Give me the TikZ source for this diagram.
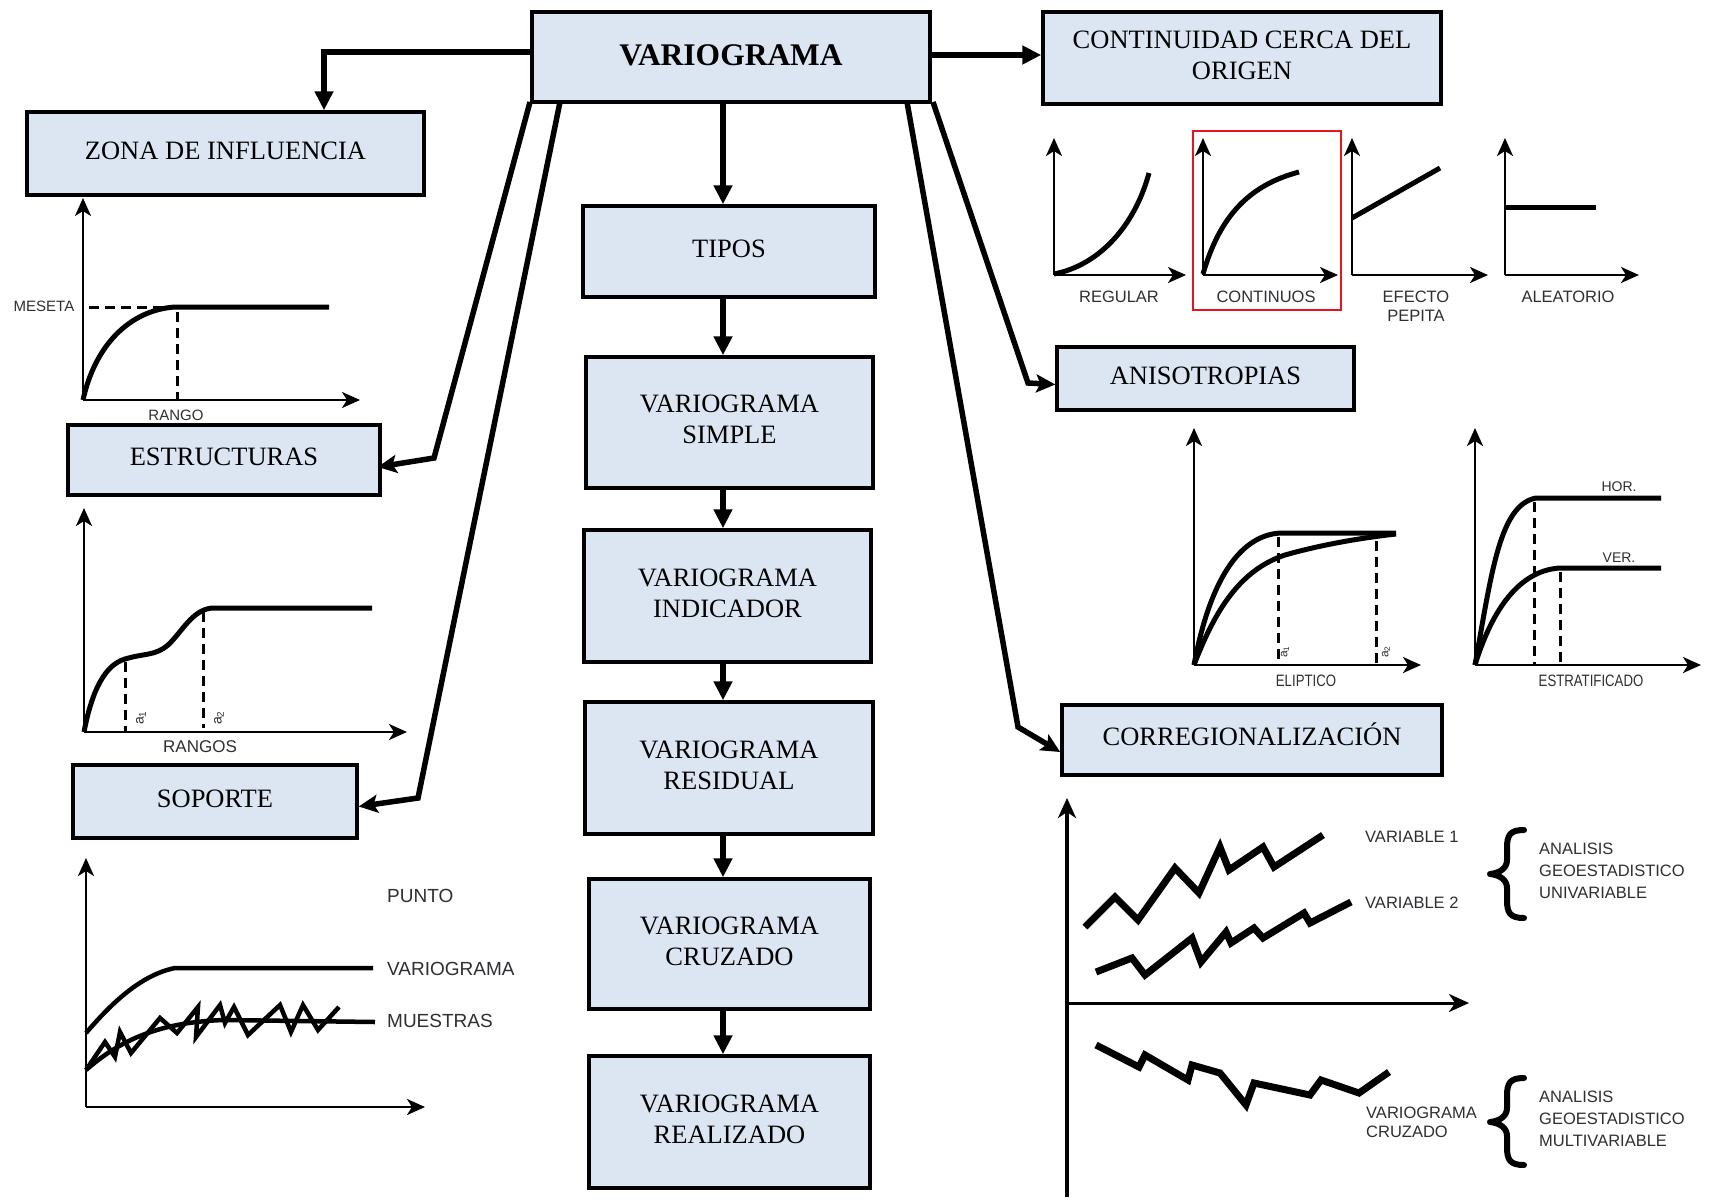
\documentclass[tikz,border=0pt]{standalone}
\usepackage{fontspec}
\setmainfont{Liberation Serif}
\newfontfamily\labfont{Liberation Sans}
\usepackage{graphicx}
\usetikzlibrary{arrows.meta,calc}
\definecolor{boxblue}{HTML}{DCE6F2}
\definecolor{labgray}{HTML}{2E2E33}
\definecolor{redbox}{HTML}{E8141B}
\begin{document}
\begin{tikzpicture}[x=1pt,y=-1pt,
  boxnode/.style={draw=black,line width=3.5pt,fill=boxblue,inner sep=0pt,align=center,text depth=6pt,font=\fontsize{26.5}{31}\selectfont},
  conn/.style={line width=5.5pt,line join=miter},
  ctip/.style={-{Triangle[length=19pt,width=18pt]}},
  stip/.style={-{Stealth[length=19pt,width=18pt,inset=4pt]}},
  axis/.style={line width=2.5pt,-{Stealth[length=18pt,width=16pt,inset=5pt]}},
  curve/.style={line width=5pt},
  dashln/.style={line width=3pt,dash pattern=on 10pt off 6pt},
  lab/.style={text=labgray,inner sep=0pt,font=\labfont\fontsize{16.5}{18}\selectfont},
  zig/.style={line width=4.5pt,line join=miter,miter limit=4},
  czig/.style={line width=7pt,line join=miter,miter limit=4},
  bracep/.style={line width=6pt,line join=round,line cap=round},
]
\useasboundingbox (0,0) rectangle (1709,1200);

% ---------- boxes ----------
\node[boxnode,minimum width=398pt,minimum height=90pt,text depth=3pt,font=\bfseries\fontsize{31.5}{36}\selectfont] (var) at (731,57) {VARIOGRAMA};
\node[boxnode,minimum width=398pt,minimum height=92pt] (cont) at (1242,58) {CONTINUIDAD CERCA DEL\\ORIGEN};
\node[boxnode,minimum width=397pt,minimum height=83pt] (zona) at (225.5,153.5) {ZONA DE INFLUENCIA};
\node[boxnode,minimum width=312pt,minimum height=70pt] (estr) at (224,460) {ESTRUCTURAS};
\node[boxnode,minimum width=284pt,minimum height=73pt] (sop) at (215,801.5) {SOPORTE};
\node[boxnode,minimum width=292pt,minimum height=91pt] (tipos) at (729,251.5) {TIPOS};
\node[boxnode,minimum width=287pt,minimum height=131pt] (simple) at (729.5,422.5) {VARIOGRAMA\\SIMPLE};
\node[boxnode,minimum width=287pt,minimum height=132pt] (indic) at (727.5,596) {VARIOGRAMA\\INDICADOR};
\node[boxnode,minimum width=288pt,minimum height=132pt] (resid) at (729,768) {VARIOGRAMA\\RESIDUAL};
\node[boxnode,minimum width=281pt,minimum height=130pt] (cruz) at (729.5,944) {VARIOGRAMA\\CRUZADO};
\node[boxnode,minimum width=281pt,minimum height=132pt] (realiz) at (729.5,1122) {VARIOGRAMA\\REALIZADO};
\node[boxnode,minimum width=297pt,minimum height=63pt] (aniso) at (1205.5,378.5) {ANISOTROPIAS};
\node[boxnode,minimum width=380pt,minimum height=70pt] (correg) at (1252,740) {CORREGIONALIZACI\smash{Ó}N};

% ---------- connectors ----------
\coordinate (ax) at (723,0);
\coordinate (zbend) at (324,52);
\draw[conn,ctip] ($(var.west)+(0,-5)$) -- (zbend) -- (zona.north -| zbend);
\draw[conn,ctip] ($(var.east)+(0,-2)$) -- ($(cont.west)+(0,-3)$);
\draw[conn,ctip] (var.south -| ax) -- (tipos.north -| ax);
\draw[conn,ctip] (tipos.south -| ax) -- (simple.north -| ax);
\draw[conn,ctip] (simple.south -| ax) -- (indic.north -| ax);
\draw[conn,ctip] (indic.south -| ax) -- (resid.north -| ax);
\draw[conn,ctip] (resid.south -| ax) -- (cruz.north -| ax);
\draw[conn,ctip] (cruz.south -| ax) -- (realiz.north -| ax);

\coordinate (s1) at (530,102); \coordinate (b1) at (434,458);
\coordinate (s2) at (560,102); \coordinate (b2) at (418,798);
\coordinate (s3) at (933,102); \coordinate (b3) at (1028,383);
\coordinate (s4) at (907,102); \coordinate (b4) at (1018,727);
\draw[conn,stip] (s1) -- (b1) -- ($(estr.east)+(-4,7)$);
\draw[conn,stip] (s2) -- (b2) -- ($(sop.east)+(0,5)$);
\draw[conn,stip] (s3) -- (b3) -- ($(aniso.west)+(0,6)$);
\draw[conn,stip] (s4) -- (b4) -- ($(correg.west)+(0,12)$);

% ---------- chart: zona de influencia ----------
\draw[axis] (83,400) -- (83,198);
\draw[axis] (83,400) -- (360,400);
\draw[curve] (83,400) .. controls (95,345) and (130,310) .. (175,307) -- (329,307);
\draw[dashln] (89,307) -- (170,307);
\draw[dashln] (177,312) -- (177,400);
\node[lab,font=\labfont\fontsize{15}{16}\selectfont] at (44,306) {MESETA};
\node[lab,font=\labfont\fontsize{15}{16}\selectfont] at (176,415) {RANGO};

% ---------- chart: estructuras ----------
\draw[axis] (84,732) -- (84,508);
\draw[axis] (84,732) -- (407,732);
\draw[curve] (84,732) .. controls (92,690) and (105,665) .. (125,659) .. controls (145,653) and (155,656) .. (168,645) .. controls (182,632) and (192,610) .. (212,608) -- (372,608);
\draw[dashln] (125,662) -- (125,732);
\draw[dashln] (203,612) -- (203,728);
\node[lab,rotate=90,font=\labfont\fontsize{14}{15}\selectfont] at (141,718) {a\textsubscript{1}};
\node[lab,rotate=90,font=\labfont\fontsize{14}{15}\selectfont] at (219,718) {a\textsubscript{2}};
\node[lab,font=\labfont\fontsize{17}{18}\selectfont] at (200,747) {RANGOS};

% ---------- chart: soporte ----------
\draw[axis] (86,1107) -- (86,858);
\draw[axis] (86,1107) -- (425,1107);
\draw[line width=4.5pt] (86,1033) .. controls (110,1005) and (140,975) .. (175,968) -- (373,968);
\draw[line width=4.5pt] (86,1070) .. controls (120,1040) and (160,1022) .. (224,1020) -- (375,1022);
\draw[zig] (86,1070) -- (105,1042) -- (115,1057) -- (120,1032) -- (131,1053) -- (160,1018) -- (177,1033) -- (198,1007) -- (196,1037) -- (220,1005) -- (225,1023) -- (234,1007) -- (248,1035) -- (280,1005) -- (291,1032) -- (303,1005) -- (318,1030) -- (339,1007);
\node[lab,anchor=west,font=\labfont\fontsize{19}{20}\selectfont] at (387,896) {PUNTO};
\node[lab,anchor=west,font=\labfont\fontsize{19}{20}\selectfont] at (387,969) {VARIOGRAMA};
\node[lab,anchor=west,font=\labfont\fontsize{19}{20}\selectfont] at (387,1021) {MUESTRAS};

% ---------- charts: continuidad ----------
\draw[axis] (1054,275) -- (1054,138);
\draw[axis] (1054,275) -- (1186,275);
\draw[curve] (1054,274) .. controls (1100,265) and (1135,225) .. (1149,173);
\node[lab] at (1119,297) {REGULAR};

\draw[axis] (1203,275) -- (1203,138);
\draw[axis] (1203,275) -- (1338,275);
\draw[curve] (1203,274) .. controls (1220,215) and (1250,185) .. (1299,172);
\node[lab] at (1266,297) {CONTINUOS};
\draw[redbox,line width=2pt] (1193,131) rectangle (1341,310);

\draw[axis] (1352,275) -- (1352,138);
\draw[axis] (1352,275) -- (1488,275);
\draw[curve] (1352,218) -- (1440,168);
\node[lab] at (1416,297) {EFECTO};
\node[lab] at (1416,316) {PEPITA};

\draw[axis] (1505,275) -- (1505,138);
\draw[axis] (1505,275) -- (1639,275);
\draw[curve] (1505,207) -- (1596,207);
\node[lab] at (1568,297) {ALEATORIO};

% ---------- charts: anisotropias ----------
\draw[axis] (1194,665) -- (1194,428);
\draw[axis] (1194,665) -- (1421,665);
\draw[curve] (1194,665) .. controls (1208,590) and (1235,536) .. (1280,533) -- (1396,533);
\draw[curve] (1194,665) .. controls (1215,610) and (1240,570) .. (1285,555) .. controls (1320,545) and (1360,538) .. (1396,534);
\draw[dashln] (1278,537) -- (1278,665);
\draw[dashln] (1376,541) -- (1376,665);
\node[lab,rotate=90,font=\labfont\fontsize{12}{13}\selectfont] at (1285,652) {a\textsubscript{1}};
\node[lab,rotate=90,font=\labfont\fontsize{12}{13}\selectfont] at (1386,652) {a\textsubscript{2}};
\node[lab] at (1306,681) {\scalebox{0.8}[1]{ELIPTICO}};

\draw[axis] (1475,665) -- (1475,428);
\draw[axis] (1475,665) -- (1701,665);
\draw[curve] (1475,665) .. controls (1492,570) and (1500,505) .. (1536,498) -- (1661,498);
\draw[curve] (1475,665) .. controls (1495,600) and (1525,570) .. (1560,568) -- (1661,568);
\draw[dashln] (1534,502) -- (1534,665);
\draw[dashln] (1560,572) -- (1560,665);
\node[lab,font=\labfont\fontsize{14}{15}\selectfont] at (1619,487) {HOR.};
\node[lab,font=\labfont\fontsize{14}{15}\selectfont] at (1619,558) {VER.};
\node[lab] at (1591,681) {\scalebox{0.8}[1]{ESTRATIFICADO}};

% ---------- chart: corregionalizacion ----------
\draw[line width=4pt,-{Stealth[length=20pt,width=18pt,inset=6pt]}] (1067,1197) -- (1067,798);
\draw[line width=3pt,-{Stealth[length=20pt,width=18pt,inset=6pt]}] (1067,1003) -- (1469,1003);
\draw[czig] (1085,927) -- (1115,897) -- (1138,920) -- (1175,868) -- (1199,893) -- (1220,847) -- (1229,870) -- (1263,847) -- (1274,867) -- (1323,835);
\draw[czig] (1096,972) -- (1132,958) -- (1145,975) -- (1192,938) -- (1201,962) -- (1226,932) -- (1231,943) -- (1254,928) -- (1263,938) -- (1304,913) -- (1310,923) -- (1351,902);
\draw[czig] (1096,1045) -- (1139,1067) -- (1145,1055) -- (1188,1080) -- (1192,1065) -- (1220,1073) -- (1246,1105) -- (1254,1083) -- (1310,1095) -- (1321,1080) -- (1359,1093) -- (1389,1072);
\node[lab,anchor=west] at (1365,837) {VARIABLE 1};
\node[lab,anchor=west] at (1365,903) {VARIABLE 2};
\node[lab,anchor=west] at (1366,1113) {VARIOGRAMA};
\node[lab,anchor=west] at (1366,1132) {CRUZADO};
% braces
\draw[bracep] (1524,830) .. controls (1510,830) and (1507,835) .. (1507,848) -- (1507,860) .. controls (1507,868) and (1500,873) .. (1490,874) .. controls (1500,875) and (1507,880) .. (1507,888) -- (1507,900) .. controls (1507,913) and (1510,918) .. (1524,918);
\draw[bracep] (1524,1078) .. controls (1510,1078) and (1507,1083) .. (1507,1096) -- (1507,1108) .. controls (1507,1116) and (1500,1121) .. (1490,1122) .. controls (1500,1123) and (1507,1128) .. (1507,1136) -- (1507,1147) .. controls (1507,1160) and (1510,1165) .. (1524,1165);
\node[lab,anchor=west] at (1539,849) {ANALISIS};
\node[lab,anchor=west] at (1539,871) {GEOESTADISTICO};
\node[lab,anchor=west] at (1539,893) {UNIVARIABLE};
\node[lab,anchor=west] at (1539,1097) {ANALISIS};
\node[lab,anchor=west] at (1539,1119) {GEOESTADISTICO};
\node[lab,anchor=west] at (1539,1141) {MULTIVARIABLE};
\end{tikzpicture}
\end{document}
